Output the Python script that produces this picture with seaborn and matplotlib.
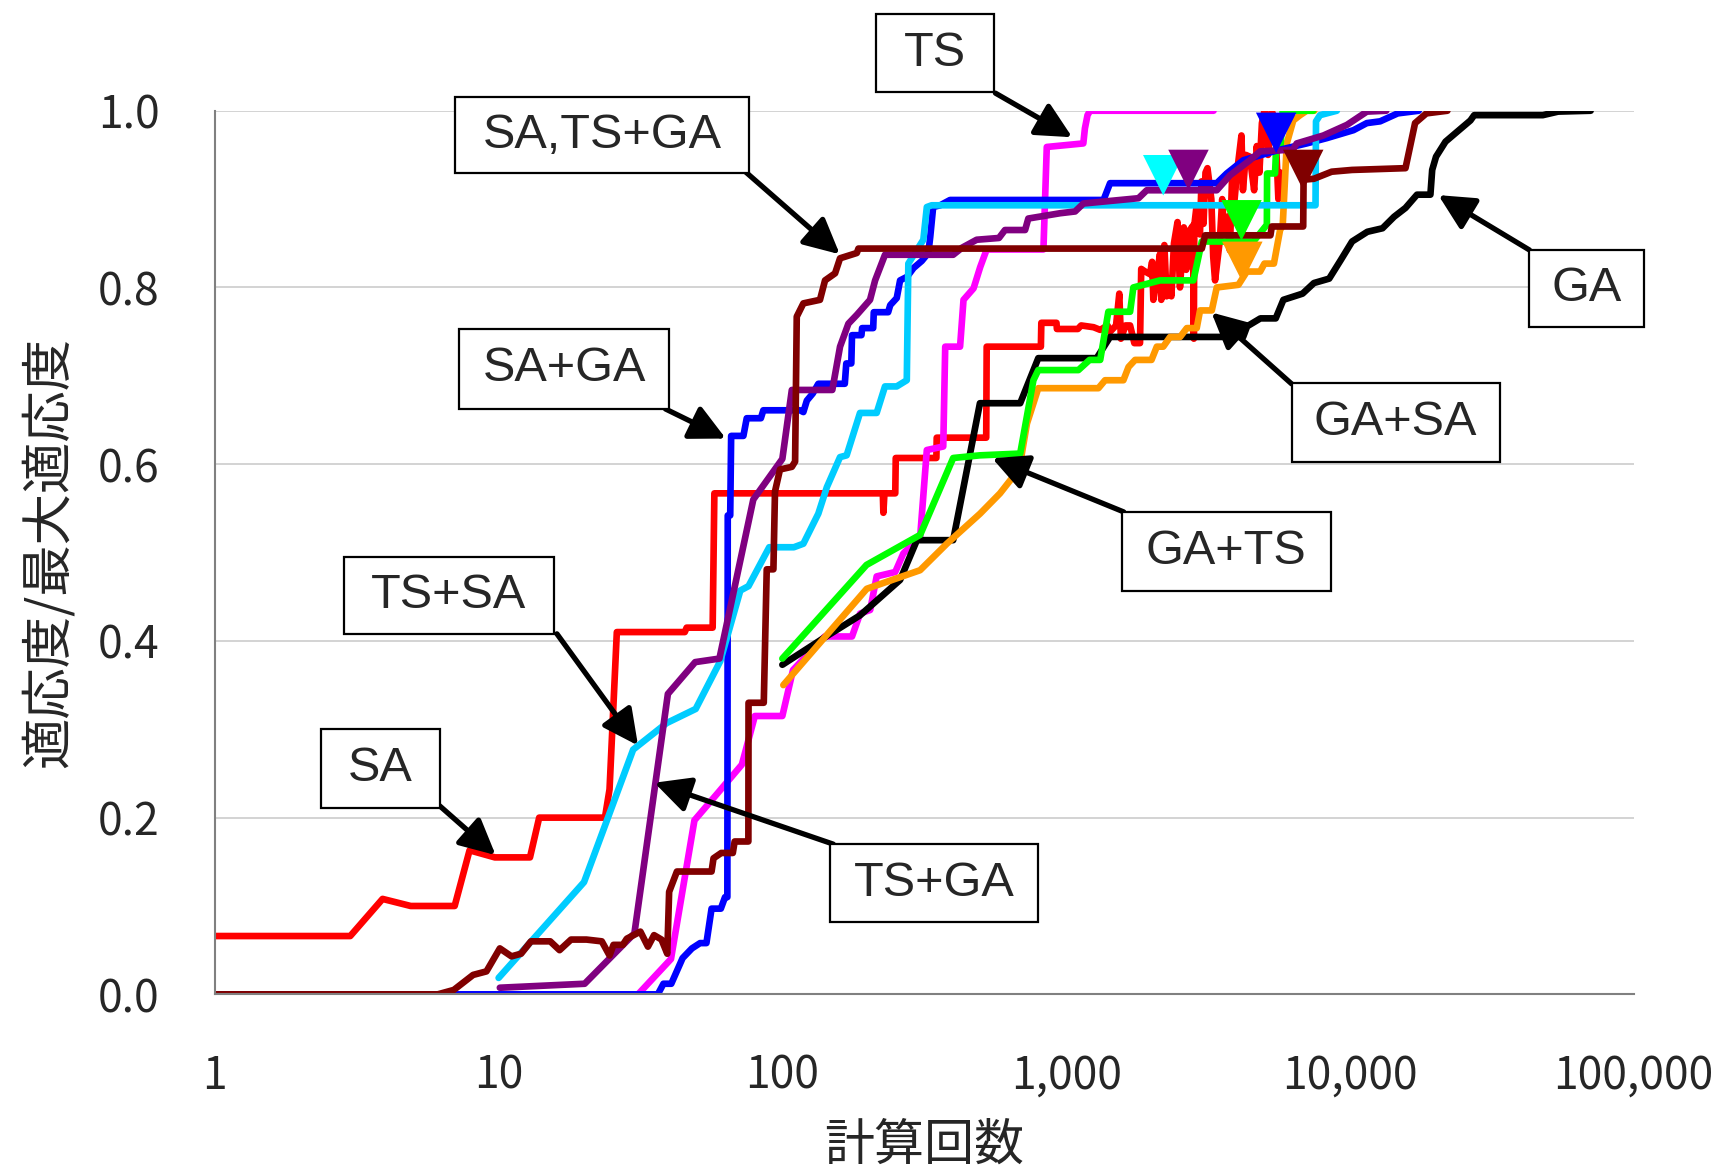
import numpy as np
import pandas as pd
import matplotlib
matplotlib.use("Agg")
import matplotlib.pyplot as plt
import seaborn as sns
from matplotlib.patches import Rectangle

# ---------------- data ----------------
sa_x = [1, 3, 3.9, 4.9, 7.0, 7.9, 9.7, 12.9, 13.9, 23.7, 24.6, 26.1, 45.3, 46, 56.8, 57.6,
        226, 227, 229, 250, 251, 349, 350, 523, 525, 815, 818, 925, 928, 1100, 1130, 1250, 1319,
        1400, 1430, 1500, 1540, 1560, 1620, 1681, 1740, 1822, 1840, 1900, 1975, 2010, 2030,
        2080, 2143, 2165, 2220, 2260, 2300, 2350, 2400, 2470, 2520, 2600, 2650, 2732, 2800,
        2820, 2830, 2880, 2963, 3000, 3050, 3100, 3150, 3250, 3300, 3350, 3484, 3550, 3600,
        3700, 3778, 3850, 3900, 4000, 4150, 4200, 4300, 4442, 4600, 4700, 4800, 4900, 5000,
        5150, 5300, 5450, 5600, 5700]
sa_y = [0.066, 0.066, 0.108, 0.10, 0.10, 0.163, 0.155, 0.155, 0.20, 0.20, 0.232, 0.41, 0.41, 0.415, 0.415, 0.567,
        0.567, 0.545, 0.567, 0.567, 0.607, 0.607, 0.63, 0.63, 0.733, 0.733, 0.76, 0.76, 0.753, 0.753, 0.757, 0.755, 0.752,
        0.757, 0.75, 0.757, 0.793, 0.742, 0.757, 0.757, 0.737, 0.737, 0.821, 0.818, 0.815, 0.829, 0.786,
        0.81, 0.838, 0.786, 0.848, 0.79, 0.81, 0.79, 0.85, 0.874, 0.80, 0.868, 0.82, 0.865, 0.87,
        0.742, 0.87, 0.891, 0.86, 0.92, 0.872, 0.93, 0.935, 0.90, 0.835, 0.808, 0.854, 0.90, 0.86,
        0.88, 0.842, 0.93, 0.89, 0.929, 0.972, 0.91, 0.95, 0.948, 0.91, 0.96, 0.93, 0.986, 1.0,
        0.95, 1.0, 0.99, 0.90, 0.93]

ts_x = [31, 40.5, 49, 60, 72, 80, 100, 109, 141, 176, 188, 204, 215, 250, 267, 306, 323, 369,
        375, 423, 435, 472, 498, 525, 832, 855, 1150, 1165, 1190, 1215, 3310]
ts_y = [0.0, 0.04, 0.197, 0.23, 0.26, 0.315, 0.315, 0.367, 0.405, 0.405, 0.431, 0.435, 0.473, 0.478,
        0.499, 0.518, 0.616, 0.62, 0.733, 0.733, 0.786, 0.799, 0.823, 0.843, 0.843, 0.959, 0.963,
        0.98, 0.995, 1.0, 1.0]

ga_x = [100, 139.5, 188, 260, 298, 400, 497, 689, 798, 1282, 1429, 4207, 4345, 4840, 5480, 5832,
        6814, 7472, 8458, 9290, 10185, 11530, 13040, 14320, 15710, 17250, 19230, 19510, 20130,
        21740, 24250, 26610, 27440, 47900, 54200, 70600]
ga_y = [0.373, 0.403, 0.429, 0.469, 0.514, 0.514, 0.669, 0.669, 0.72, 0.72, 0.744, 0.744, 0.756,
        0.765, 0.765, 0.786, 0.793, 0.805, 0.81, 0.831, 0.852, 0.863, 0.867, 0.88, 0.89, 0.905,
        0.905, 0.933, 0.948, 0.965, 0.978, 0.989, 0.995, 0.995, 0.999, 1.0]

gasa_x = [100.8, 198.4, 305.8, 380, 497.5, 585, 651, 689, 728, 798, 1300, 1372, 1592, 1660, 1751,
          2000, 2088, 2200, 2326, 2522, 2664, 2887, 2966, 3262, 3396, 4050, 4335, 4830, 5000,
          5400, 5678, 5800, 5995, 6320, 6680, 7047, 7500]
gasa_y = [0.35, 0.459, 0.48, 0.51, 0.544, 0.567, 0.586, 0.601, 0.646, 0.686, 0.686, 0.695, 0.695,
          0.71, 0.718, 0.718, 0.733, 0.733, 0.744, 0.744, 0.754, 0.754, 0.774, 0.774, 0.8, 0.803,
          0.818, 0.818, 0.827, 0.827, 0.865, 0.87, 0.963, 0.989, 0.995, 1.0, 1.0]

gats_x = [100, 198, 306, 400, 497, 689, 767, 798, 1105, 1210, 1319, 1409, 1681, 1726, 2143, 2810,
          3009, 4575, 5100, 5110, 5450, 5500, 5700, 5800, 7430]
gats_y = [0.38, 0.486, 0.52, 0.607, 0.61, 0.612, 0.695, 0.7065, 0.7065, 0.718, 0.718, 0.7725,
          0.7725, 0.8, 0.808, 0.808, 0.852, 0.852, 0.871, 0.929, 0.929, 0.957, 0.96, 1.0, 1.0]

saga_x = [1, 36.4, 38.1, 40.6, 44.5, 48, 51.3, 54, 56.3, 60.7, 62.8, 64, 64.2, 65.5, 66, 72.9, 74.9,
          84, 85.7, 115.4, 118.6, 122, 128, 133.9, 166, 168, 175, 176, 190, 191, 209, 210, 236,
          240, 253, 260, 275, 290, 310, 327, 332, 340, 360, 390, 1355, 1429, 3396, 3683, 4215,
          5530, 7047, 8296, 10300, 11480, 12790, 14750, 17500]
saga_y = [0.0, 0.0, 0.012, 0.012, 0.041, 0.052, 0.058, 0.058, 0.097, 0.097, 0.11, 0.11, 0.542, 0.542,
          0.632, 0.632, 0.652, 0.652, 0.661, 0.661, 0.659, 0.672, 0.68, 0.691, 0.691, 0.714, 0.714,
          0.746, 0.746, 0.754, 0.754, 0.772, 0.772, 0.78, 0.788, 0.808, 0.812, 0.822, 0.83, 0.839,
          0.857, 0.891, 0.893, 0.899, 0.899, 0.918, 0.918, 0.929, 0.944, 0.955, 0.963, 0.969, 0.978,
          0.986, 0.988, 0.997, 1.0]

tssa_x = [10, 20, 29.8, 39.1, 49.5, 60.4, 71.1, 76, 89.9, 109.8, 118.6, 133.9, 143.5, 159.7, 168.5,
          187.8, 215, 230, 253, 274.5, 278, 314, 323, 336, 7570, 7600, 7850, 9000]
tssa_y = [0.0186, 0.127, 0.277, 0.307, 0.323, 0.377, 0.457, 0.462, 0.506, 0.506, 0.51, 0.544, 0.574,
          0.608, 0.61, 0.658, 0.658, 0.688, 0.688, 0.695, 0.827, 0.854, 0.891, 0.893, 0.893, 0.988,
          0.995, 1.0]

tsga_x = [10.1, 20.1, 30.1, 39.5, 49.3, 60, 79, 100, 108, 150, 159.7, 170.9, 183, 203.7, 212.3, 230,
          400, 430, 484, 580, 609, 717, 736, 953, 1076, 1151, 1550, 1800, 1924, 3396, 3784, 4446,
          4830, 6300, 6500, 8070, 9770, 11480, 13440]
tsga_y = [0.0075, 0.012, 0.069, 0.34, 0.376, 0.38, 0.56, 0.606, 0.684, 0.684, 0.733, 0.759, 0.769,
          0.786, 0.808, 0.837, 0.837, 0.845, 0.854, 0.856, 0.865, 0.865, 0.878, 0.884, 0.886, 0.895,
          0.899, 0.901, 0.91, 0.91, 0.927, 0.944, 0.954, 0.956, 0.963, 0.972, 0.984, 0.999, 1.0]

satsga_x = [1, 6.1, 6.95, 8.13, 9.06, 10.1, 11.1, 12.0, 13.0, 15.2, 16.4, 18, 20.4, 23.1, 24.6, 25.4,
            27.4, 28.3, 31.6, 33.6, 35.3, 37.5, 39.3, 39.9, 42.5, 56.3, 57.2, 60.9, 66.9, 67.9, 75.9,
            76, 86, 88.1, 93, 94.2, 98.1, 108, 110.9, 112.4, 118.6, 135.7, 141.4, 153.4, 159.7, 183,
            185.4, 3009, 3090, 5250, 5310, 6850, 6870, 7472, 8630, 10180, 15710, 16980, 18610, 22080]
satsga_y = [0.0, 0.0, 0.005, 0.022, 0.026, 0.052, 0.043, 0.046, 0.06, 0.06, 0.05, 0.062, 0.062, 0.06,
            0.044, 0.056, 0.056, 0.063, 0.071, 0.054, 0.067, 0.062, 0.046, 0.116, 0.139, 0.139, 0.154,
            0.16, 0.16, 0.173, 0.173, 0.33, 0.33, 0.481, 0.481, 0.569, 0.594, 0.597, 0.603, 0.767,
            0.782, 0.786, 0.808, 0.816, 0.833, 0.839, 0.844, 0.844, 0.859, 0.859, 0.869, 0.869,
            0.922, 0.923, 0.931, 0.933, 0.935, 0.986, 0.997, 1.0]

marker_names = ["m_ts_sa", "m_ts_ga", "m_sa_ga", "m_ga_ts", "m_ga_sa", "m_sats_ga"]
marker_x = [2200, 2700, 5500, 4150, 4180, 6850]
marker_y = [0.927, 0.933, 0.975, 0.876, 0.829, 0.933]

# label text, box (axes fraction x0, x1, y0, y1), arrow tail (axes fraction), arrow tip (data)
labels = ["TS", "SA,TS+GA", "SA+GA", "TS+SA", "SA", "TS+GA", "GA+TS", "GA+SA", "GA"]
label_boxes = [(0.466, 0.5495, 1.021, 1.109), (0.1692, 0.3764, 0.929, 1.016),
               (0.1723, 0.3199, 0.6625, 0.7531), (0.0912, 0.2388, 0.408, 0.495),
               (0.075, 0.1584, 0.2109, 0.3002), (0.4335, 0.5804, 0.0819, 0.17),
               (0.6391, 0.7867, 0.4566, 0.5459), (0.7589, 0.9057, 0.603, 0.6923),
               (0.9266, 1.0077, 0.7556, 0.8424)]
arrow_tails = [(0.5502, 1.0199), (0.3725, 0.933), (0.3176, 0.6625), (0.2411, 0.408),
               (0.1584, 0.2134), (0.4359, 0.17), (0.6406, 0.546), (0.7589, 0.691), (0.9266, 0.8424)]
arrow_tips = [(1051, 0.970), (159.4, 0.8375), (63.2, 0.629), (31.0, 0.2816), (9.76, 0.1576),
              (35.4, 0.2395), (549, 0.6067), (3253, 0.7717), (20510, 0.9045)]

x_ticks = [1, 10, 100, 1000, 10000, 100000]
x_tick_labels = ["1", "10", "100", "1,000", "10,000", "100,000"]
y_ticks = [0.0, 0.2, 0.4, 0.6, 0.8, 1.0]
y_tick_labels = ["0.0", "0.2", "0.4", "0.6", "0.8", "1.0"]

# ---------------- tables ----------------
series = [
    ("SA", sa_x, sa_y, "#FF0000"),
    ("TS", ts_x, ts_y, "#FF00FF"),
    ("GA", ga_x, ga_y, "#000000"),
    ("GA+SA", gasa_x, gasa_y, "#FF9900"),
    ("GA+TS", gats_x, gats_y, "#00FF00"),
    ("SA+GA", saga_x, saga_y, "#0000FF"),
    ("TS+SA", tssa_x, tssa_y, "#00CCFF"),
    ("TS+GA", tsga_x, tsga_y, "#800080"),
    ("SA,TS+GA", satsga_x, satsga_y, "#800000"),
]
frames = []
for name, xs, ys, _ in series:
    frames.append(pd.DataFrame({"method": name, "x": xs, "y": ys}))
df = pd.concat(frames, ignore_index=True)
palette = {name: c for name, _, _, c in series}
hue_order = [name for name, _, _, _ in series]

mk = pd.DataFrame({"name": marker_names, "x": marker_x, "y": marker_y})
mk_palette = dict(zip(marker_names, ["#00FFFF", "#800080", "#0000FF", "#00FF00", "#FF9900", "#800000"]))

# ---------------- plot ----------------
sns.set_style("white")
plt.rcParams["font.family"] = ["Noto Sans CJK JP", "DejaVu Sans"]

fig = plt.figure(figsize=(17.19, 11.73), dpi=100)
ax = fig.add_axes([0.1250, 0.1523, 0.8253, 0.7533])

sns.lineplot(data=df, x="x", y="y", hue="method", hue_order=hue_order, palette=palette,
             units="method", estimator=None, sort=False, linewidth=4.8, legend=False, ax=ax)
for line in ax.get_lines():
    line.set_linewidth(4.8)
sns.scatterplot(data=mk, x="x", y="y", hue="name", palette=mk_palette, marker="v", s=850,
                linewidth=0, legend=False, ax=ax, zorder=5)

ax.set_xscale("log")
ax.set_xlim(1, 100000)
ax.set_ylim(0, 1.0)
ax.set_xticks(x_ticks)
ax.set_xticklabels(x_tick_labels)
ax.set_yticks(y_ticks)
ax.set_yticklabels(y_tick_labels)
ax.minorticks_off()
ax.tick_params(axis="x", direction="in", length=11, width=1.3, color="#808080",
               labelsize=32, pad=42)
ax.tick_params(axis="y", direction="in", length=11, width=1.3, color="#808080",
               labelsize=32, pad=40)
ax.yaxis.grid(True, color="#d0d0d0", lw=1.3)
ax.xaxis.grid(False)
for s in ["top", "right"]:
    ax.spines[s].set_visible(False)
for s in ["left", "bottom"]:
    ax.spines[s].set_color("#808080")
    ax.spines[s].set_linewidth(1.5)

ax.set_xlabel("計算回数", fontsize=36)
ax.set_ylabel("適応度/最大適応度", fontsize=37)
ax.xaxis.set_label_coords(0.5, -0.171)
ax.xaxis.label.set_va("center")
ax.yaxis.set_label_coords(-0.117, 0.5)
ax.yaxis.label.set_va("center")

# labelled boxes with arrows
for text, (x0, x1, y0, y1), tail, tip in zip(labels, label_boxes, arrow_tails, arrow_tips):
    ax.add_patch(Rectangle((x0, y0), x1 - x0, y1 - y0, transform=ax.transAxes,
                           facecolor="white", edgecolor="black", lw=1.6,
                           clip_on=False, zorder=8))
    ax.text((x0 + x1) / 2, (y0 + y1) / 2, text, transform=ax.transAxes,
            ha="center", va="center", fontsize=35, family=["Liberation Sans"],
            zorder=9, clip_on=False)
    ax.annotate("", xy=tip, xycoords="data", xytext=tail, textcoords="axes fraction",
                arrowprops=dict(arrowstyle="-|>,head_length=0.9,head_width=0.45",
                                lw=3.8, color="black", shrinkA=0, shrinkB=0,
                                mutation_scale=24),
                annotation_clip=False, zorder=7)

fig.savefig("out.png", dpi=100)
